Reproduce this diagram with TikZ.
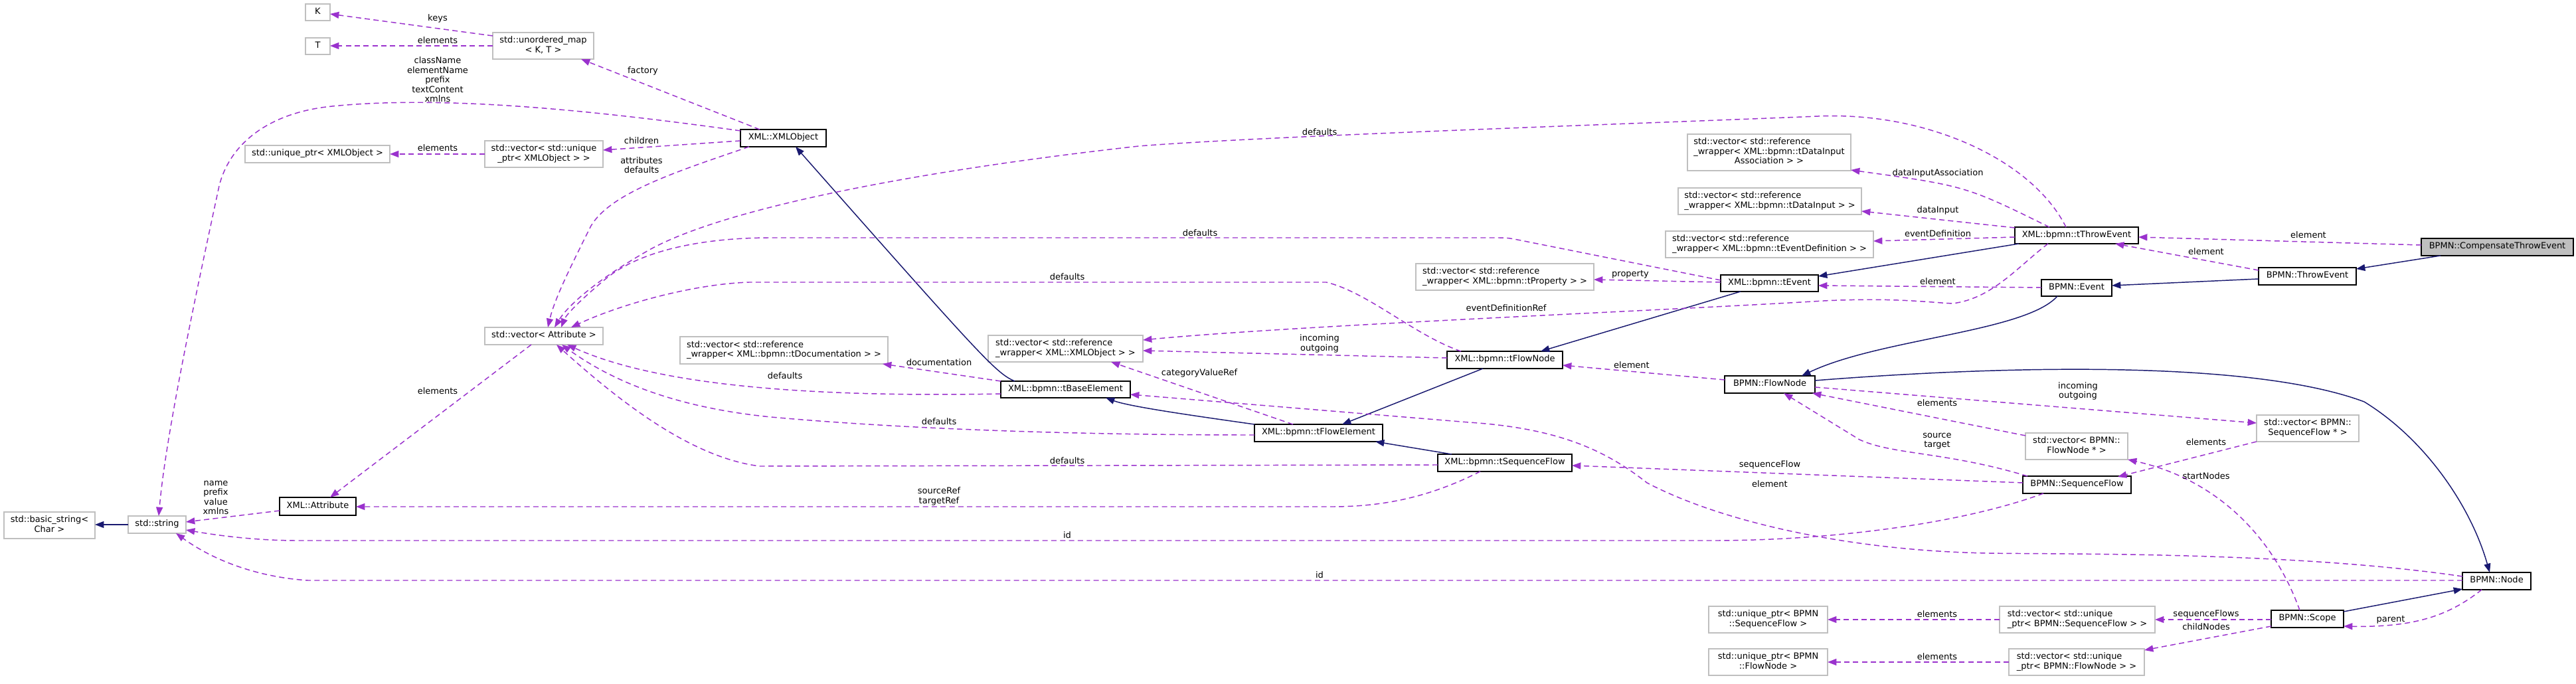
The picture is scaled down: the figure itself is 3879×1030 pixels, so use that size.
\documentclass[tikz,border=0pt]{standalone}
\usepackage{fontspec}
\setmainfont{DejaVu Sans}
\usetikzlibrary{arrows.meta,calc}
\definecolor{inhc}{HTML}{191970}
\definecolor{usec}{HTML}{9A32CD}
\definecolor{grayb}{HTML}{BFBFBF}
\newcommand\lastc[1]{\multicolumn{1}{@{}c@{}}{#1}}
\newcommand\bx[7]{\node[#2, minimum width={(#5-#3)*0.75pt}, minimum height={(#6-#4)*0.75pt}] (#1) at ({(#3+#5)/2},{(#4+#6)/2}) {\begin{tabular}{@{}l@{}}#7\end{tabular}};}
\begin{document}
\begin{tikzpicture}[x=0.75pt,y=-0.75pt, font=\fontsize{9.75pt}{10.9pt}\selectfont,
 ext/.style={draw=grayb, line width=1.1pt, fill=white, inner sep=0pt, outer sep=0pt},
 doc/.style={draw=black, line width=1.1pt, fill=white, inner sep=0pt, outer sep=0pt},
 cur/.style={doc, fill=grayb},
 inh/.style={draw=inhc, line width=1.1pt, -{Triangle[length=10pt,width=7.5pt]}},
 use/.style={draw=usec, line width=1.1pt, dash pattern=on 6pt off 4pt, -{Triangle[length=10pt,width=7.5pt]}},
 lbl/.style={inner sep=0pt, align=center, text=black}]
\fill[white] (0,0) rectangle (3879,1030);
\useasboundingbox (0,0) rectangle (3879,1030);
% nodes
\bx{K}{ext}{460}{6}{497}{31}{K}
\bx{T}{ext}{460}{57}{497}{82}{T}
\bx{umap}{ext}{742}{49}{894}{89}{std::unordered\_map\\\lastc{< K, T >}}
\bx{xmlobj}{doc}{1115}{195}{1244}{221}{XML::XMLObject}
\bx{uptrxo}{ext}{369}{219}{587}{245}{std::unique\_ptr< XMLObject >}
\bx{vecuxo}{ext}{730}{212}{908}{252}{std::vector< std::unique\\\lastc{\_ptr< XMLObject > >}}
\bx{vecattr}{ext}{730}{493}{908}{519}{std::vector< Attribute >}
\bx{bstr}{ext}{6}{771}{143}{811}{std::basic\_string<\\\lastc{Char >}}
\bx{str}{ext}{193}{777}{280}{803}{std::string}
\bx{attr}{doc}{421}{749}{536}{776}{XML::Attribute}
\bx{tdoc}{ext}{1024}{507}{1337}{548}{std::vector< std::reference\\\lastc{\_wrapper< XML::bpmn::tDocumentation > >}}
\bx{refxo}{ext}{1488}{505}{1721}{545}{std::vector< std::reference\\\lastc{\_wrapper< XML::XMLObject > >}}
\bx{tbase}{doc}{1507}{574}{1702}{599}{XML::bpmn::tBaseElement}
\bx{tflowel}{doc}{1889}{639}{2082}{665}{XML::bpmn::tFlowElement}
\bx{tseqf}{doc}{2165}{684}{2367}{710}{XML::bpmn::tSequenceFlow}
\bx{tflownode}{doc}{2179}{529}{2353}{555}{XML::bpmn::tFlowNode}
\bx{tprop}{ext}{2132}{397}{2400}{437}{std::vector< std::reference\\\lastc{\_wrapper< XML::bpmn::tProperty > >}}
\bx{tevent}{doc}{2591}{414}{2738}{439}{XML::bpmn::tEvent}
\bx{dia}{ext}{2541}{202}{2787}{257}{std::vector< std::reference\\\_wrapper< XML::bpmn::tDataInput\\\lastc{Association > >}}
\bx{di}{ext}{2527}{283}{2803}{323}{std::vector< std::reference\\\lastc{\_wrapper< XML::bpmn::tDataInput > >}}
\bx{edef}{ext}{2508}{348}{2821}{388}{std::vector< std::reference\\\lastc{\_wrapper< XML::bpmn::tEventDefinition > >}}
\bx{tthrow}{doc}{3034}{342}{3220}{367}{XML::bpmn::tThrowEvent}
\bx{cte}{cur}{3646}{359}{3875}{385}{BPMN::CompensateThrowEvent}
\bx{throwev}{doc}{3401}{403}{3548}{429}{BPMN::ThrowEvent}
\bx{event}{doc}{3074}{421}{3180}{446}{BPMN::Event}
\bx{flownode}{doc}{2597}{566}{2733}{592}{BPMN::FlowNode}
\bx{vsf}{ext}{3398}{625}{3552}{665}{std::vector< BPMN::\\\lastc{SequenceFlow * >}}
\bx{vfn}{ext}{3050}{652}{3204}{692}{std::vector< BPMN::\\\lastc{FlowNode * >}}
\bx{seqflow}{doc}{3046}{717}{3209}{743}{BPMN::SequenceFlow}
\bx{bnode}{doc}{3708}{862}{3811}{888}{BPMN::Node}
\bx{scope}{doc}{3420}{919}{3529}{945}{BPMN::Scope}
\bx{vusf}{ext}{3011}{913}{3245}{953}{std::vector< std::unique\\\lastc{\_ptr< BPMN::SequenceFlow > >}}
\bx{vufn}{ext}{3025}{977}{3229}{1017}{std::vector< std::unique\\\lastc{\_ptr< BPMN::FlowNode > >}}
\bx{usf}{ext}{2573}{913}{2752}{953}{std::unique\_ptr< BPMN\\\lastc{::SequenceFlow >}}
\bx{ufn}{ext}{2573}{977}{2752}{1017}{std::unique\_ptr< BPMN\\\lastc{::FlowNode >}}
% inheritance
\draw[inh] ([shift={(29,26)}]cte.north west) -- ([shift={(147,2)}]throwev.north west);
\draw[inh] ([shift={(0,17)}]throwev.north west) -- ([shift={(106,9)}]event.north west);
\draw[inh] ([shift={(24,25)}]event.north west) .. controls (3050,500) and (2830,510) .. ([shift={(116,0)}]flownode.north west);
\draw[inh] ([shift={(136,7)}]flownode.north west) .. controls (3050,548) and (3400,545) .. (3560,605) .. controls (3650,660) and (3720,760) .. ([shift={(41,0)}]bnode.north west);
\draw[inh] ([shift={(109,2)}]scope.north west) -- ([shift={(0,25)}]bnode.north west);
\draw[inh] ([shift={(6,25)}]tthrow.north west) -- ([shift={(147,2)}]tevent.north west);
\draw[inh] ([shift={(30,25)}]tevent.north west) -- ([shift={(141,0)}]tflownode.north west);
\draw[inh] ([shift={(54,26)}]tflownode.north west) -- ([shift={(132,0)}]tflowel.north west);
\draw[inh] (tflowel.north west) .. controls (1790,625) and (1700,612) .. ([shift={(158,25)}]tbase.north west);
\draw[inh] ([shift={(21,0)}]tseqf.north west) -- ([shift={(182,26)}]tflowel.north west);
\draw[inh] ([shift={(21,0)}]tbase.north west) .. controls (1500,562) and (1480,540) .. ([shift={(83,26)}]xmlobj.north west);
\draw[inh] ([shift={(0,13)}]str.north west) -- ([shift={(137,19)}]bstr.north west);
% usage
\draw[use] ([shift={(0,5)}]umap.north west) -- ([shift={(37,15)}]K.north west);
\draw[use] ([shift={(0,20)}]umap.north west) -- ([shift={(37,12)}]T.north west);
\draw[use] ([shift={(29,0)}]xmlobj.north west) -- ([shift={(133,40)}]umap.north west);
\draw[use] ([shift={(0,2)}]xmlobj.north west) .. controls (850,160) and (650,145) .. (500,160) .. controls (400,170) and (345,220) .. (330,280) .. controls (300,420) and (250,650) .. ([shift={(46,0)}]str.north west);
\draw[use] ([shift={(0,17)}]xmlobj.north west) -- ([shift={(178,14)}]vecuxo.north west);
\draw[use] ([shift={(0,20)}]vecuxo.north west) -- ([shift={(218,13)}]uptrxo.north west);
\draw[use] ([shift={(13,26)}]xmlobj.north west) .. controls (1020,258) and (920,290) .. (890,340) .. controls (860,400) and (835,450) .. ([shift={(95,0)}]vecattr.north west);
\draw[use] ([shift={(70,26)}]vecattr.north west) -- ([shift={(76,0)}]attr.north west);
\draw[use] ([shift={(0,20)}]attr.north west) -- ([shift={(87,9)}]str.north west);
\draw[use] ([shift={(77,0)}]tthrow.north west) .. controls (3060,240) and (2900,168) .. (2738,175) .. controls (2500,185) and (1900,205) .. (1715,220) .. controls (1400,255) and (1100,310) .. (980,375) .. controls (900,420) and (855,460) .. ([shift={(105,0)}]vecattr.north west);
\draw[use] ([shift={(0,8)}]tevent.north west) -- (2290,362) .. controls (2270,358) .. (2250,358) -- (1161,358) .. controls (1050,358) and (960,380) .. (912,420) .. controls (870,455) and (852,475) .. ([shift={(115,0)}]vecattr.north west);
\draw[use] ([shift={(21,0)}]tflownode.north west) .. controls (2130,505) and (2060,440) .. (1997,425) -- (1128,425) .. controls (1040,428) and (930,460) .. ([shift={(130,0)}]vecattr.north west);
\draw[use] ([shift={(0,19)}]tbase.north west) .. controls (1250,598) and (1000,585) .. ([shift={(124,26)}]vecattr.north west);
\draw[use] ([shift={(0,16)}]tflowel.north west) .. controls (1600,655) and (1350,645) .. (1161,628) .. controls (1030,615) and (930,580) .. ([shift={(116,26)}]vecattr.north west);
\draw[use] ([shift={(0,16)}]tseqf.north west) -- (1144,702) .. controls (1050,690) and (950,620) .. ([shift={(108,26)}]vecattr.north west);
\draw[use] (tbase.north west) -- ([shift={(305,41)}]tdoc.north west);
\draw[use] ([shift={(58,0)}]tflowel.north west) -- ([shift={(185,40)}]refxo.north west);
\draw[use] ([shift={(0,10)}]tflownode.north west) -- ([shift={(233,23)}]refxo.north west);
\draw[use] ([shift={(50,25)}]tthrow.north west) .. controls (3040,400) and (3000,450) .. (2940,457) .. controls (2900,455) and (2850,448) .. (2746,453) .. controls (2500,468) and (1950,490) .. ([shift={(233,7)}]refxo.north west);
\draw[use] ([shift={(0,11)}]tevent.north west) -- ([shift={(268,24)}]tprop.north west);
\draw[use] ([shift={(52,0)}]tthrow.north west) .. controls (2960,280) .. ([shift={(246,54)}]dia.north west);
\draw[use] ([shift={(0,1)}]tthrow.north west) -- ([shift={(276,35)}]di.north west);
\draw[use] ([shift={(0,15)}]tthrow.north west) -- ([shift={(313,15)}]edef.north west);
\draw[use] ([shift={(0,10)}]cte.north west) -- ([shift={(186,15)}]tthrow.north west);
\draw[use] ([shift={(0,4)}]throwev.north west) -- ([shift={(151,25)}]tthrow.north west);
\draw[use] ([shift={(0,12)}]event.north west) -- ([shift={(147,16)}]tevent.north west);
\draw[use] ([shift={(0,6)}]flownode.north west) -- ([shift={(174,21)}]tflownode.north west);
\draw[use] ([shift={(136,17)}]flownode.north west) -- ([shift={(0,12)}]vsf.north west);
\draw[use] ([shift={(0,4)}]vfn.north west) -- ([shift={(132,26)}]flownode.north west);
\draw[use] ([shift={(7,0)}]seqflow.north west) .. controls (2930,680) and (2850,685) .. (2800,662) -- ([shift={(89,26)}]flownode.north west);
\draw[use] ([shift={(0,40)}]vsf.north west) -- ([shift={(143,1)}]seqflow.north west);
\draw[use] ([shift={(0,10)}]seqflow.north west) -- ([shift={(202,17)}]tseqf.north west);
\draw[use] ([shift={(31,26)}]seqflow.north west) .. controls (2950,790) and (2750,814) .. (2580,814) -- (448,814) .. controls (380,814) and (320,805) .. ([shift={(87,21)}]str.north west);
\draw[use] ([shift={(0,12)}]bnode.north west) -- (464,874) .. controls (400,870) and (330,850) .. ([shift={(72,26)}]str.north west);
\draw[use] ([shift={(0,6)}]bnode.north west) .. controls (3450,830) and (3100,835) .. (2995,833) .. controls (2800,830) and (2600,790) .. (2480,727) .. controls (2420,680) and (2350,645) .. (2212,636) -- ([shift={(195,20)}]tbase.north west);
\draw[use] ([shift={(43,0)}]scope.north west) .. controls (3420,800) and (3330,720) .. ([shift={(154,40)}]vfn.north west);
\draw[use] ([shift={(0,14)}]scope.north west) -- ([shift={(234,20)}]vusf.north west);
\draw[use] ([shift={(0,24)}]scope.north west) -- ([shift={(204,2)}]vufn.north west);
\draw[use] ([shift={(0,20)}]vusf.north west) -- ([shift={(179,20)}]usf.north west);
\draw[use] ([shift={(0,20)}]vufn.north west) -- ([shift={(179,20)}]ufn.north west);
\draw[use] ([shift={(29,26)}]bnode.north west) .. controls (3690,925) and (3640,945) .. ([shift={(109,24)}]scope.north west);
\draw[use] ([shift={(64,26)}]tseqf.north west) .. controls (2150,750) and (2080,763) .. (2005,763) -- ([shift={(115,14)}]attr.north west);
% labels
\node[lbl] (l1) at (659,28) {keys};
\node[lbl] (l2) at (659,61) {elements};
\node[lbl] (l3) at (968,107) {factory};
\node[lbl] (l4) at (659,120) {className\\elementName\\prefix\\textContent\\xmlns};
\node[lbl] (l5) at (966,212) {children};
\node[lbl] (l6) at (966,248.5) {attributes\\defaults};
\node[lbl] (l7) at (659,223) {elements};
\node[lbl] (l8) at (659,589) {elements};
\node[lbl] (l9) at (325,749.5) {name\\prefix\\value\\xmlns};
\node[lbl] (l10) at (1987,199) {defaults};
\node[lbl] (l11) at (1807,351) {defaults};
\node[lbl] (l12) at (1607,417) {defaults};
\node[lbl] (l13) at (1182,566) {defaults};
\node[lbl] (l14) at (1414,635) {defaults};
\node[lbl] (l15) at (1607,694) {defaults};
\node[lbl] (l16) at (1414,546) {documentation};
\node[lbl] (l17) at (1806,562) {categoryValueRef};
\node[lbl] (l18) at (1987,517.5) {incoming\\outgoing};
\node[lbl] (l19) at (2268,464) {eventDefinitionRef};
\node[lbl] (l20) at (2455,413) {property};
\node[lbl] (l21) at (2918,261) {dataInputAssociation};
\node[lbl] (l22) at (2918,317) {dataInput};
\node[lbl] (l23) at (2918,352) {eventDefinition};
\node[lbl] (l24) at (3476,354) {element};
\node[lbl] (l25) at (3322,379) {element};
\node[lbl] (l26) at (2918,424) {element};
\node[lbl] (l27) at (2457,550) {element};
\node[lbl] (l28) at (3129,589) {incoming\\outgoing};
\node[lbl] (l29) at (2917,607) {elements};
\node[lbl] (l30) at (2917,664) {source\\target};
\node[lbl] (l31) at (3322,666) {elements};
\node[lbl] (l32) at (2665,700) {sequenceFlow};
\node[lbl] (l33) at (2665,729) {element};
\node[lbl] (l34) at (3322,717) {startNodes};
\node[lbl] (l35) at (1414,747.5) {sourceRef\\targetRef};
\node[lbl] (l36) at (1607,806) {id};
\node[lbl] (l37) at (1987,866) {id};
\node[lbl] (l38) at (2917,925) {elements};
\node[lbl] (l39) at (3322,925) {sequenceFlows};
\node[lbl] (l40) at (3322,944) {childNodes};
\node[lbl] (l41) at (3600,933) {parent};
\node[lbl] (l42) at (2917,989) {elements};
\end{tikzpicture}
\end{document}
